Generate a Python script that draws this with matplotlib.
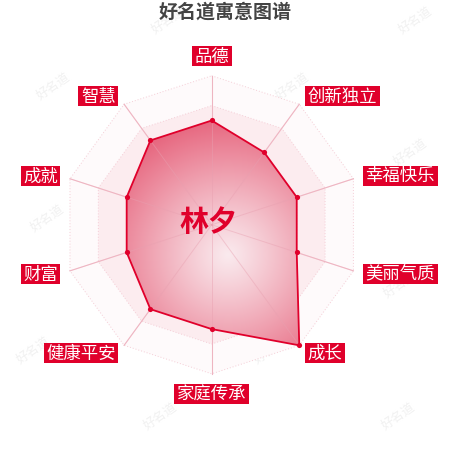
import numpy as np
import matplotlib
matplotlib.use('Agg')
import matplotlib.pyplot as plt
from matplotlib.patches import Polygon, Rectangle

plt.rcParams['font.family'] = ['Noto Sans CJK SC', 'DejaVu Sans']

# ---------------- data ----------------
title = '好名道寓意图谱'
name = '林夕'
categories = ['品德', '创新独立', '幸福快乐', '美丽气质', '成长',
              '家庭传承', '健康平安', '财富', '成就', '智慧']
values = [70, 60, 60, 60, 100, 70, 70, 60, 60, 70]
max_value = 100
ring_levels = [20, 40, 60, 80, 100]
watermark = '好名道'

# ---------------- style ----------------
RED = '#e0002b'
W = H = 450
cx_px, cy_px = 211.7, 224.8      # radar centre in pixels (from top-left)
R_px = 149.0                      # radius of max value in pixels
s = R_px / max_value              # pixels per value unit

fig = plt.figure(figsize=(4.5, 4.5), dpi=100)
ax = fig.add_axes([0, 0, 1, 1])
ax.set_xlim(-cx_px / s, (W - cx_px) / s)
ax.set_ylim(-(H - cy_px) / s, cy_px / s)
ax.set_aspect('equal')
ax.axis('off')

n = len(categories)
ang = np.arange(n) * 2 * np.pi / n


def polar_xy(r):
    r = np.broadcast_to(np.asarray(r, float), ang.shape)
    return r * np.sin(ang), r * np.cos(ang)


def closed(a):
    return np.append(a, a[0])


# watermarks
wm_rows = [(20, [168, 415]), (86, [53, 292]), (152, [170, 410]),
           (218, [47, 290]), (284, [160, 400]), (350, [33, 270]),
           (416, [160, 398])]
for ypx, xs in wm_rows:
    for xpx in xs:
        ax.text((xpx - cx_px) / s, (cy_px - ypx) / s, watermark,
                fontsize=9, color='#f1f1f1', rotation=35,
                ha='center', va='center', zorder=0.5)

# split areas (bands)
band_colors = {100: '#fefafb', 80: '#fcecef', 60: '#fae4e8', 40: '#f9e0e5', 20: '#f8dce2'}
for lvl in sorted(ring_levels, reverse=True):
    bx, by = polar_xy(lvl)
    ax.add_patch(Polygon(np.column_stack([bx, by]), closed=True,
                         facecolor=band_colors[lvl], edgecolor='none', zorder=1))
    ax.plot(closed(bx), closed(by), color='#f5cdd6', lw=0.7,
            linestyle=(0, (1, 2)), zorder=1.5)

# axis lines
ox, oy = polar_xy(max_value)
for x, y in zip(ox, oy):
    ax.plot([0, x], [0, y], color='#f4c6d0', lw=0.8, zorder=1.6)

# data polygon with radial gradient
px_, py_ = polar_xy(values)
poly = Polygon(np.column_stack([px_, py_]), closed=True, facecolor='none',
               edgecolor='none', zorder=2)
ax.add_patch(poly)
x0, x1 = ax.get_xlim()
y0, y1 = ax.get_ylim()
gx, gy = np.meshgrid(np.linspace(x0, x1, 450), np.linspace(y1, y0, 450))
gcx, gcy, gr = (228 - cx_px) / s, (cy_px - 255) / s, 135 / s
t = np.clip(np.hypot(gx - gcx, gy - gcy) / gr, 0, 1) ** 1.1
c_in = np.array([250, 234, 238]) / 255
c_out = np.array([231, 104, 128]) / 255
img = c_in[None, None, :] * (1 - t[..., None]) + c_out[None, None, :] * t[..., None]
im = ax.imshow(img, extent=(x0, x1, y0, y1), zorder=2, aspect='auto',
               interpolation='bilinear')
im.set_clip_path(poly)
ax.set_xlim(x0, x1)
ax.set_ylim(y0, y1)

# faint axis lines over the fill
for x, y in zip(ox, oy):
    ax.plot([0, x], [0, y], color='#e8a0b0', lw=0.7, alpha=0.45, zorder=3)

ax.plot(closed(px_), closed(py_), color=RED, lw=1.3, zorder=4)
ax.scatter(px_, py_, s=14, color=RED, zorder=5, linewidths=0)

# category labels
fig.canvas.draw()
renderer = fig.canvas.get_renderer()
label_r = 159 / s
lx, ly = polar_xy(label_r)
pad_px, box_h = 2.6, 20.0
for i, lab in enumerate(categories):
    sx, cy = np.sin(ang[i]), np.cos(ang[i])
    t_ = ax.text(0, 0, lab, fontsize=12.5, color='white', ha='center',
                 va='center', zorder=7)
    w_px = t_.get_window_extent(renderer).width + 2 * pad_px
    wd, hd = w_px / s, box_h / s
    if abs(sx) < 1e-6:
        left = lx[i] - wd / 2
        bottom = ly[i] if cy > 0 else ly[i] - hd
    elif sx > 0:
        left = lx[i]
        bottom = ly[i] - hd / 2
    else:
        left = lx[i] - wd
        bottom = ly[i] - hd / 2
    t_.set_position((left + wd / 2, bottom + hd / 2 - 0.6 / s))
    ax.add_patch(Rectangle((left, bottom), wd, hd, facecolor=RED,
                           edgecolor='none', zorder=6))

# centre name and title
ax.text(-2.7 / s, 2.8 / s, name, fontsize=21, fontweight='bold', color=RED,
        ha='center', va='center', zorder=8)
fig.text(225.5 / W, 1 - 12 / H, title, fontsize=13.7, fontweight='bold',
         color='#444444', ha='center', va='center')

fig.savefig('out.png', dpi=100)
